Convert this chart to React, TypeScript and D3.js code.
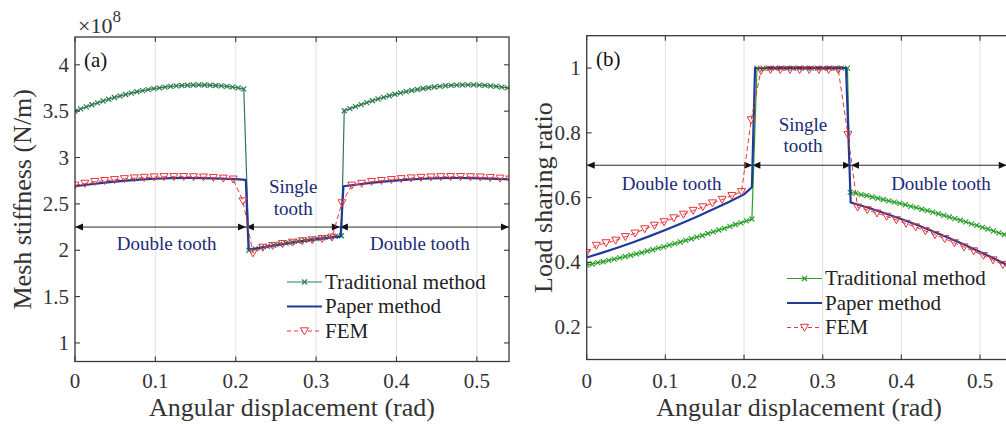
import React from 'react';
import * as d3 from 'd3';

// ---- data -------------------------------------------------------------

const X_TICKS = [0, 0.1, 0.2, 0.3, 0.4, 0.5];
const STIFFNESS_TICKS = [1, 1.5, 2, 2.5, 3, 3.5, 4];
const RATIO_TICKS = [0.2, 0.4, 0.6, 0.8, 1];

// Traditional method (angle in rad)
const TRAD_ANGLE = [
  0, 0.007, 0.014, 0.021, 0.028, 0.035, 0.042, 0.049, 0.056, 0.063, 0.07, 0.077, 0.084, 0.091, 0.098, 0.105,
  0.112, 0.119, 0.126, 0.133, 0.14, 0.147, 0.154, 0.161, 0.168, 0.175, 0.182, 0.189, 0.196, 0.203, 0.21,
  0.2165, 0.2242, 0.2318, 0.2395, 0.2472, 0.2548, 0.2625, 0.2702, 0.2778, 0.2855, 0.2932, 0.3008, 0.3085,
  0.3162, 0.3238, 0.3315,
  0.335, 0.342, 0.349, 0.356, 0.363, 0.37, 0.377, 0.384, 0.391, 0.398, 0.405, 0.412, 0.419, 0.426, 0.433,
  0.44, 0.447, 0.454, 0.461, 0.468, 0.475, 0.482, 0.489, 0.496, 0.503, 0.51, 0.517, 0.524, 0.531, 0.538, 0.545,
];
// mesh stiffness, ×10^8 N/m
const TRAD_STIFFNESS = [
  3.5, 3.524, 3.547, 3.569, 3.59, 3.61, 3.629, 3.647, 3.664, 3.68, 3.695, 3.709, 3.722, 3.733, 3.743, 3.752,
  3.76, 3.767, 3.773, 3.777, 3.78, 3.782, 3.783, 3.782, 3.78, 3.777, 3.773, 3.767, 3.76, 3.751, 3.74,
  2.0, 2.014, 2.028, 2.041, 2.054, 2.066, 2.077, 2.088, 2.098, 2.108, 2.117, 2.126, 2.134, 2.142, 2.149, 2.156,
  3.505, 3.527, 3.549, 3.571, 3.592, 3.612, 3.631, 3.649, 3.666, 3.682, 3.697, 3.711, 3.723, 3.734, 3.744,
  3.753, 3.761, 3.768, 3.774, 3.778, 3.781, 3.783, 3.784, 3.783, 3.781, 3.778, 3.773, 3.767, 3.76, 3.751, 3.74,
];
const TRAD_RATIO = [
  0.392, 0.395, 0.399, 0.402, 0.406, 0.41, 0.414, 0.418, 0.422, 0.426, 0.43, 0.435, 0.439, 0.444, 0.448, 0.453,
  0.458, 0.463, 0.468, 0.473, 0.478, 0.483, 0.489, 0.494, 0.5, 0.505, 0.511, 0.517, 0.522, 0.528, 0.534,
  1, 1, 1, 1, 1, 1, 1, 1, 1, 1, 1, 1, 1, 1, 1, 1,
  0.616, 0.613, 0.609, 0.606, 0.602, 0.598, 0.594, 0.59, 0.586, 0.582, 0.578, 0.573, 0.569, 0.564, 0.56,
  0.555, 0.55, 0.545, 0.54, 0.535, 0.53, 0.525, 0.519, 0.514, 0.508, 0.503, 0.497, 0.491, 0.486, 0.48, 0.474,
];

// Paper method
const PAPER_STIFF_ANGLE = [
  0, 0.02, 0.04, 0.06, 0.08, 0.1, 0.12, 0.14, 0.16, 0.18, 0.2, 0.2125,
  0.216, 0.24, 0.26, 0.28, 0.3, 0.32, 0.3305,
  0.334, 0.354, 0.374, 0.394, 0.414, 0.434, 0.454, 0.474, 0.494, 0.514, 0.534, 0.546,
];
const PAPER_STIFFNESS = [
  2.69, 2.712, 2.732, 2.748, 2.761, 2.771, 2.777, 2.779, 2.778, 2.773, 2.766, 2.76,
  2.005, 2.04, 2.068, 2.094, 2.117, 2.138, 2.15,
  2.69, 2.712, 2.732, 2.748, 2.761, 2.771, 2.777, 2.779, 2.778, 2.773, 2.766, 2.76,
];
const PAPER_RATIO_ANGLE = [
  0, 0.02, 0.04, 0.06, 0.08, 0.1, 0.12, 0.14, 0.16, 0.18, 0.2, 0.21,
  0.214, 0.3297,
  0.3356, 0.356, 0.376, 0.396, 0.416, 0.436, 0.456, 0.476, 0.496, 0.516, 0.536, 0.546,
];
const PAPER_RATIO = [
  0.415, 0.43, 0.446, 0.463, 0.481, 0.5, 0.52, 0.541, 0.563, 0.586, 0.61, 0.632,
  1, 1,
  0.585, 0.57, 0.554, 0.537, 0.519, 0.5, 0.48, 0.459, 0.437, 0.414, 0.39, 0.378,
];

// FEM
const FEM_ANGLE = [
  0, 0.0123, 0.0246, 0.0369, 0.0492, 0.0615, 0.0738, 0.0861, 0.0984, 0.1107, 0.123, 0.1353, 0.1476, 0.1599,
  0.1722, 0.1845, 0.1968, 0.2091, 0.2214, 0.2337, 0.246, 0.2583, 0.2706, 0.2829, 0.2952, 0.3075, 0.3198,
  0.3321, 0.3444, 0.3567, 0.369, 0.3813, 0.3936, 0.4059, 0.4182, 0.4305, 0.4428, 0.4551, 0.4674, 0.4797,
  0.492, 0.5043, 0.5166, 0.5289, 0.5412,
];
const FEM_STIFFNESS = [
  2.7, 2.72, 2.74, 2.75, 2.76, 2.77, 2.778, 2.784, 2.789, 2.792, 2.793, 2.793, 2.791, 2.788, 2.783, 2.776, 2.766,
  2.53, 1.97,
  2.03, 2.05, 2.07, 2.085, 2.1, 2.11, 2.125, 2.14,
  2.51, 2.7,
  2.72, 2.74, 2.75, 2.76, 2.77, 2.778, 2.784, 2.789, 2.792, 2.793, 2.793, 2.791, 2.788, 2.783, 2.776, 2.766,
];
const FEM_RATIO = [
  0.43, 0.452, 0.46, 0.468, 0.479, 0.49, 0.503, 0.514, 0.525, 0.537, 0.548, 0.56, 0.571, 0.583, 0.594, 0.606, 0.618,
  0.84, 0.992,
  0.995, 0.995, 0.995, 0.995, 0.995, 0.995, 0.995, 0.995,
  0.794, 0.57,
  0.562, 0.552, 0.542, 0.531, 0.52, 0.509, 0.497, 0.485, 0.473, 0.46, 0.447, 0.435, 0.421, 0.407, 0.393, 0.378,
];

// Meshing zone boundaries (rad)
const STIFF_ZONES = [0, 0.2127, 0.3296, 0.54];
const RATIO_ZONES = [0, 0.2106, 0.336, 0.534];

const LEGEND_LABELS = ['Traditional method', 'Paper method', 'FEM'];

// ---- styling ---------------------------------------------------------

const FONT = "'Liberation Serif', 'Times New Roman', serif";
const AXIS = '#3a3a3a';
const GRID = '#e2e2e2';
const BLUE = '#1f3a98';
const RED = '#e8353b';
const NOTE = '#1b2a78';

type Series = { x: number[]; y: number[] };

type PanelProps = {
  id: string;
  x0: number; x1: number; y0: number; y1: number;
  yDomain: [number, number];
  yTicks: number[];
  yLabel: string;
  yLabelX: number;
  tag: string;
  tagX: number;
  trad: Series; tradColor: string;
  paper: Series;
  fem: Series;
  zones: number[]; zoneLevel: number;
  notes: { at: [number, number]; lines: string[] }[];
  legendX: number; legendY: number;
  exponent?: boolean;
};

const xMark = 'M-2.5,-2.5L2.5,2.5M-2.5,2.5L2.5,-2.5';
const triMark = 'M-4,-3.2L4,-3.2L0,3.8Z';

function arrowHead(x: number, y: number, dir: number) {
  return `M${x},${y}L${x - dir * 8},${y - 3.5}L${x - dir * 8},${y + 3.5}Z`;
}

function Panel(p: PanelProps) {
  const sx = d3.scaleLinear().domain([0, 0.54]).range([p.x0, p.x1]);
  const sy = d3.scaleLinear().domain(p.yDomain).range([p.y1, p.y0]);
  const line = (s: Series) =>
    d3.line<number>().x((_, i) => sx(s.x[i])).y((v) => sy(v))(s.y) || '';
  const tl = 5;

  return (
    <g fontFamily={FONT}>
      <defs>
        <clipPath id={p.id}>
          <rect x={p.x0} y={p.y0} width={p.x1 - p.x0} height={p.y1 - p.y0} />
        </clipPath>
      </defs>
      {/* grid */}
      {X_TICKS.map((t) => (
        <line key={'g' + t} x1={sx(t)} x2={sx(t)} y1={p.y0} y2={p.y1} stroke={GRID} strokeWidth={1} />
      ))}

      {/* zone arrows */}
      {p.zones.slice(0, -1).map((z, i) => {
        const a = sx(z), b = sx(p.zones[i + 1]), y = sy(p.zoneLevel);
        return (
          <g key={'z' + i}>
            <line x1={a} x2={b} y1={y} y2={y} stroke="#111" strokeWidth={0.9} />
            <path d={arrowHead(a, y, -1)} fill="#111" />
            <path d={arrowHead(b, y, 1)} fill="#111" />
          </g>
        );
      })}
      {p.notes.map((n, i) => (
        <text key={'n' + i} x={sx(n.at[0])} y={sy(n.at[1])} fontSize={19} fill={NOTE} textAnchor="middle">
          {n.lines.map((l, j) => (
            <tspan key={j} x={sx(n.at[0])} dy={j === 0 ? 0 : 21.5}>{l}</tspan>
          ))}
        </text>
      ))}

      {/* series */}
      <g clipPath={`url(#${p.id})`}>
        <path d={line(p.trad)} fill="none" stroke={p.tradColor} strokeWidth={1.2} />
        {p.trad.x.map((x, i) => (
          <path key={'t' + i} d={xMark} transform={`translate(${sx(x)},${sy(p.trad.y[i])})`}
            fill="none" stroke={p.tradColor} strokeWidth={1.2} />
        ))}
        <path d={line(p.paper)} fill="none" stroke={BLUE} strokeWidth={2.2} strokeLinejoin="round" />
        <path d={line(p.fem)} fill="none" stroke={RED} strokeWidth={1} strokeDasharray="5,3" />
        {p.fem.x.map((x, i) => (
          <path key={'f' + i} d={triMark} transform={`translate(${sx(x)},${sy(p.fem.y[i])})`}
            fill="none" stroke={RED} strokeWidth={1} />
        ))}
      </g>

      {/* axes box */}
      <rect x={p.x0} y={p.y0} width={p.x1 - p.x0} height={p.y1 - p.y0} fill="none" stroke={AXIS} strokeWidth={1.3} />
      {X_TICKS.map((t) => (
        <g key={'xt' + t}>
          <line x1={sx(t)} x2={sx(t)} y1={p.y1} y2={p.y1 - tl} stroke={AXIS} strokeWidth={1.1} />
          <line x1={sx(t)} x2={sx(t)} y1={p.y0} y2={p.y0 + tl} stroke={AXIS} strokeWidth={1.1} />
          <text x={sx(t)} y={388} fontSize={21} fill="#333" textAnchor="middle">{String(t)}</text>
        </g>
      ))}
      {p.yTicks.map((t) => (
        <g key={'yt' + t}>
          <line x1={p.x0} x2={p.x0 + tl} y1={sy(t)} y2={sy(t)} stroke={AXIS} strokeWidth={1.1} />
          <line x1={p.x1} x2={p.x1 - tl} y1={sy(t)} y2={sy(t)} stroke={AXIS} strokeWidth={1.1} />
          <text x={p.x0 - 6} y={sy(t) + 7} fontSize={21} fill="#333" textAnchor="end">{String(t)}</text>
        </g>
      ))}
      <text x={(p.x0 + p.x1) / 2} y={416} fontSize={26} fill="#333" textAnchor="middle">Angular displacement (rad)</text>
      <text transform={`translate(${p.yLabelX},${(p.y0 + p.y1) / 2}) rotate(-90)`} fontSize={26} fill="#333" textAnchor="middle">
        {p.yLabel}
      </text>
      <text x={p.tagX} y={p.y0 + 30} fontSize={21} fill="#111">{p.tag}</text>
      {p.exponent && (
        <text x={p.x0 + 3} y={33} fontSize={22} fill="#333">
          ×10<tspan dy={-11} fontSize={17}>8</tspan>
        </text>
      )}

      {/* legend */}
      {LEGEND_LABELS.map((lab, i) => {
        const ly = p.legendY + i * 24.5;
        const lx0 = p.legendX, lx1 = p.legendX + 35, mx = (lx0 + lx1) / 2;
        return (
          <g key={'l' + i}>
            {i === 0 && (
              <>
                <line x1={lx0} x2={lx1} y1={ly} y2={ly} stroke={p.tradColor} strokeWidth={1.2} />
                <path d={xMark} transform={`translate(${mx},${ly})`} stroke={p.tradColor} strokeWidth={1.2} />
              </>
            )}
            {i === 1 && <line x1={lx0} x2={lx1} y1={ly} y2={ly} stroke={BLUE} strokeWidth={2.2} />}
            {i === 2 && (
              <>
                <line x1={lx0} x2={lx1} y1={ly} y2={ly} stroke={RED} strokeWidth={1} strokeDasharray="4,3" />
                <path d={triMark} transform={`translate(${mx},${ly})`} fill="#fff" stroke={RED} strokeWidth={1} />
              </>
            )}
            <text x={lx1 + 3} y={ly + 6.5} fontSize={21} fill="#222">{lab}</text>
          </g>
        );
      })}
    </g>
  );
}

export default function App() {
  return (
    <svg width={1006} height={426} style={{ position: 'absolute', left: 0, top: 0, background: '#fff' }}>
      <rect width={1006} height={426} fill="#fff" />
      <Panel
        id="clip-a"
        x0={75} x1={509} y0={37} y1={361.5}
        yDomain={[0.8, 4.3]}
        yTicks={STIFFNESS_TICKS}
        yLabel="Mesh stiffness (N/m)"
        yLabelX={31}
        tag="(a)" tagX={84}
        trad={{ x: TRAD_ANGLE, y: TRAD_STIFFNESS }} tradColor="#2f7a50"
        paper={{ x: PAPER_STIFF_ANGLE, y: PAPER_STIFFNESS }}
        fem={{ x: FEM_ANGLE, y: FEM_STIFFNESS }}
        zones={STIFF_ZONES} zoneLevel={2.25}
        notes={[
          { at: [0.114, 2.0], lines: ['Double tooth'] },
          { at: [0.2715, 2.617], lines: ['Single', 'tooth'] },
          { at: [0.429, 2.0], lines: ['Double tooth'] },
        ]}
        legendX={287} legendY={282}
        exponent
      />
      <Panel
        id="clip-b"
        x0={586.7} x1={1011.5} y0={35.7} y1={359.5}
        yDomain={[0.1, 1.1]}
        yTicks={RATIO_TICKS}
        yLabel="Load sharing ratio"
        yLabelX={552}
        tag="(b)" tagX={596}
        trad={{ x: TRAD_ANGLE, y: TRAD_RATIO }} tradColor="#2ca02c"
        paper={{ x: PAPER_RATIO_ANGLE, y: PAPER_RATIO }}
        fem={{ x: FEM_ANGLE, y: FEM_RATIO }}
        zones={RATIO_ZONES} zoneLevel={0.7}
        notes={[
          { at: [0.108, 0.624], lines: ['Double tooth'] },
          { at: [0.275, 0.807], lines: ['Single', 'tooth'] },
          { at: [0.4504, 0.624], lines: ['Double tooth'] },
        ]}
        legendX={787} legendY={278.5}
      />
    </svg>
  );
}
